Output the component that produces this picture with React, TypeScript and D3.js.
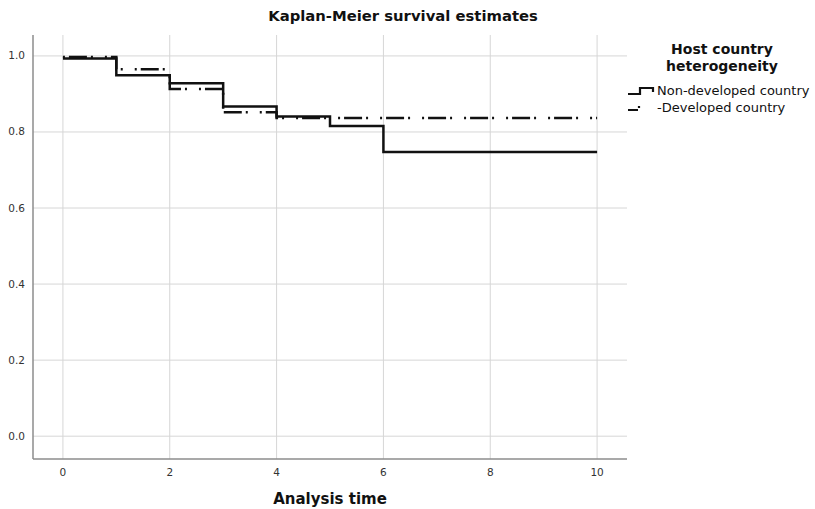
import { useEffect, useRef } from 'react';
import * as d3 from 'd3';

// survival estimates
const nonDevTimes = [0, 1, 2, 3, 4, 5, 6, 10];
const nonDevSurv = [0.993, 0.949, 0.928, 0.867, 0.841, 0.816, 0.747, 0.747];
const devTimes = [0, 1, 2, 3, 4, 10];
const devSurv = [0.997, 0.965, 0.913, 0.852, 0.837, 0.837];

const xTicks = [0, 2, 4, 6, 8, 10];
const yTicks = [0, 0.2, 0.4, 0.6, 0.8, 1.0];
const legendLabels = ['Non-developed country', '-Developed country'];

const FONT = '"DejaVu Sans", sans-serif';
const DASH_DOT = '2,4,18,4,2,12';

export default function App() {
  const svgRef = useRef<SVGSVGElement>(null);

  useEffect(() => {
    if (!svgRef.current) return;
    const svg = d3.select(svgRef.current);
    svg.selectAll('*').remove();

    const left = 33;
    const right = 627;
    const top = 35;
    const bottom = 459;

    const x = d3.scaleLinear().domain([-0.56, 10.56]).range([left, right]);
    const y = d3.scaleLinear().domain([-0.06, 1.055]).range([bottom, top]);

    // gridlines
    const grid = svg.append('g').attr('stroke', '#d6d6d6').attr('stroke-width', 1);
    xTicks.forEach((t) => {
      grid.append('line')
        .attr('x1', x(t)).attr('x2', x(t))
        .attr('y1', top).attr('y2', bottom);
    });
    yTicks.forEach((t) => {
      grid.append('line')
        .attr('x1', left).attr('x2', right)
        .attr('y1', y(t)).attr('y2', y(t));
    });

    // axis lines
    svg.append('line')
      .attr('x1', left).attr('x2', left)
      .attr('y1', top).attr('y2', bottom)
      .attr('stroke', '#8c8c8c').attr('stroke-width', 1.5);
    svg.append('line')
      .attr('x1', left).attr('x2', right)
      .attr('y1', bottom).attr('y2', bottom)
      .attr('stroke', '#8c8c8c').attr('stroke-width', 1.5);

    // tick labels
    svg.append('g')
      .selectAll('text')
      .data(xTicks)
      .enter()
      .append('text')
      .attr('x', (d) => x(d))
      .attr('y', 476)
      .attr('text-anchor', 'middle')
      .style('font-family', FONT)
      .style('font-size', '10.5px')
      .style('fill', '#333')
      .text((d) => `${d}`);

    svg.append('g')
      .selectAll('text')
      .data(yTicks)
      .enter()
      .append('text')
      .attr('x', 25)
      .attr('y', (d) => y(d) + 3.5)
      .attr('text-anchor', 'end')
      .style('font-family', FONT)
      .style('font-size', '10.5px')
      .style('fill', '#333')
      .text((d) => d.toFixed(1));

    // survival curves
    const line = d3.line<[number, number]>()
      .x((d) => x(d[0]))
      .y((d) => y(d[1]))
      .curve(d3.curveStepAfter);

    const devPts = devTimes.map((t, i) => [t, devSurv[i]] as [number, number]);
    const nonDevPts = nonDevTimes.map((t, i) => [t, nonDevSurv[i]] as [number, number]);

    svg.append('path')
      .attr('d', line(nonDevPts))
      .attr('fill', 'none')
      .attr('stroke', '#111')
      .attr('stroke-width', 2.5);

    svg.append('path')
      .attr('d', line(devPts))
      .attr('fill', 'none')
      .attr('stroke', '#111')
      .attr('stroke-width', 2.5)
      .attr('stroke-dasharray', DASH_DOT);

    // titles
    svg.append('text')
      .attr('x', 403).attr('y', 21)
      .attr('text-anchor', 'middle')
      .style('font-family', FONT)
      .style('font-size', '14.8px')
      .style('font-weight', 'bold')
      .style('fill', '#111')
      .text('Kaplan-Meier survival estimates');

    svg.append('text')
      .attr('x', 330).attr('y', 504)
      .attr('text-anchor', 'middle')
      .style('font-family', FONT)
      .style('font-size', '15px')
      .style('font-weight', 'bold')
      .style('fill', '#111')
      .text('Analysis time');

    // legend
    const lg = svg.append('g');
    ['Host country', 'heterogeneity'].forEach((s, i) => {
      lg.append('text')
        .attr('x', 722).attr('y', 54 + i * 17)
        .attr('text-anchor', 'middle')
        .style('font-family', FONT)
        .style('font-size', '14px')
        .style('font-weight', 'bold')
        .style('fill', '#111')
        .text(s);
    });

    lg.append('path')
      .attr('d', 'M628,94H640V88H653V92')
      .attr('fill', 'none')
      .attr('stroke', '#111')
      .attr('stroke-width', 2.2);
    lg.append('path')
      .attr('d', 'M628,110H639V106')
      .attr('fill', 'none')
      .attr('stroke', '#111')
      .attr('stroke-width', 2.2)
      .attr('stroke-dasharray', '10,3,2,20');

    legendLabels.forEach((s, i) => {
      lg.append('text')
        .attr('x', 657).attr('y', 95 + i * 17)
        .style('font-family', FONT)
        .style('font-size', '13px')
        .style('fill', '#111')
        .text(s);
    });
  }, []);

  return (
    <svg
      ref={svgRef}
      width={815}
      height={509}
      style={{ position: 'absolute', left: 0, top: 0, background: '#fff' }}
    ></svg>
  );
}
